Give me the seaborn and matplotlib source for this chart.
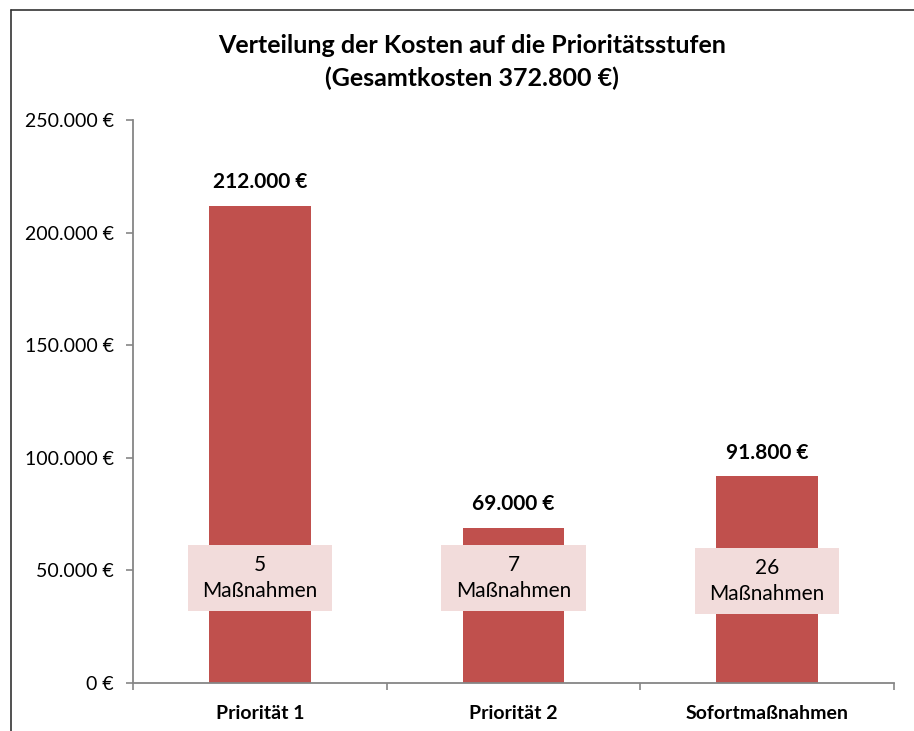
import matplotlib
matplotlib.use("Agg")
import matplotlib.pyplot as plt
from matplotlib.lines import Line2D
from matplotlib.patches import Rectangle
from matplotlib.ticker import FuncFormatter
import seaborn as sns
import pandas as pd

# Data
categories = ["Priorität 1", "Priorität 2", "Sofortmaßnahmen"]
kosten = [212000, 69000, 91800]
massnahmen = [5, 7, 26]
box_y = [46600, 46600, 45300]
gesamt = 372800
y_ticks = [0, 50000, 100000, 150000, 200000, 250000]

df = pd.DataFrame({"Stufe": categories, "Kosten": kosten})

sns.set_theme(style="white")
plt.rcParams["font.family"] = ["Lato", "DejaVu Sans"]

BAR = "#C0504D"
BOX = "#F2DCDB"
AXIS = "#868686"


def euro(v, _pos=None):
    return f"{int(v):,}".replace(",", ".") + " €"


fig = plt.figure(figsize=(9.14, 7.31), dpi=100)
ax = fig.add_axes([133 / 914, 1 - 683 / 731, (894 - 133) / 914, (683 - 120) / 731])

sns.barplot(data=df, x="Stufe", y="Kosten", color=BAR, width=0.4,
            saturation=1, ax=ax, edgecolor="none")

ax.set_xlim(-0.5, 2.5)
ax.set_ylim(0, 250000)
ax.set_yticks(y_ticks)
ax.yaxis.set_major_formatter(FuncFormatter(euro))
ax.set_xlabel("")
ax.set_ylabel("")

for side in ["top", "right"]:
    ax.spines[side].set_visible(False)
for side in ["left", "bottom"]:
    ax.spines[side].set_color(AXIS)
    ax.spines[side].set_linewidth(1.3)

ax.tick_params(axis="y", which="major", left=True, length=5, width=1.2,
               color=AXIS, pad=9, labelsize=14, labelcolor="black")
ax.set_xticks([-0.5, 0.5, 1.5, 2.5], minor=True)
ax.tick_params(axis="x", which="minor", bottom=True, length=5, width=1.2, color=AXIS)
ax.tick_params(axis="x", which="major", bottom=False, length=0, pad=16,
               labelsize=14, labelcolor="black")
for lbl in ax.get_xticklabels():
    lbl.set_fontweight("bold")

# Count boxes: 0.57 category widths wide, 29.300 € tall
box_w, box_h = 0.57, 29300
for i, (v, n, by) in enumerate(zip(kosten, massnahmen, box_y)):
    ax.annotate(euro(v), (i, v), xytext=(0, 17), textcoords="offset points",
                ha="center", va="center", fontsize=15, fontweight="bold",
                color="black")
    ax.add_patch(Rectangle((i - box_w / 2, by - box_h / 2), box_w, box_h,
                           facecolor=BOX, edgecolor="none", zorder=3))
    ax.text(i, by, f"{n}\nMaßnahmen", ha="center", va="center", fontsize=15,
            color="black", linespacing=1.42, zorder=4)

fig.text(472 / 914, 1 - 62 / 731,
         "Verteilung der Kosten auf die Prioritätsstufen\n(Gesamtkosten " + euro(gesamt) + ")",
         ha="center", va="center", fontsize=18, fontweight="bold",
         linespacing=1.45, color="black")

# Chart frame (left and top edges)
fig.add_artist(Line2D([10.5 / 914, 10.5 / 914], [0, 1 - 10 / 731],
                      transform=fig.transFigure, color="#333333", lw=1.2))
fig.add_artist(Line2D([10.5 / 914, 1], [1 - 10 / 731, 1 - 10 / 731],
                      transform=fig.transFigure, color="#333333", lw=1.2))

fig.savefig("out.png", dpi=100)
